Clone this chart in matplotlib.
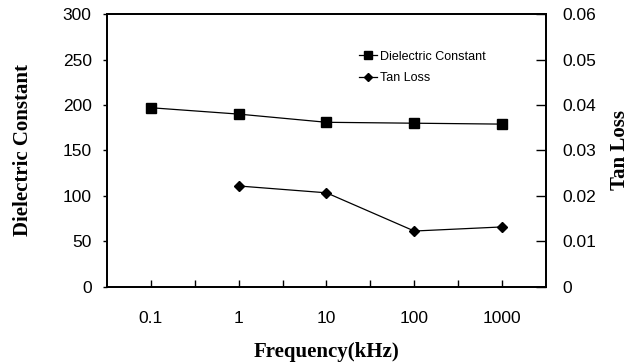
import matplotlib.pyplot as plt
from matplotlib.ticker import FixedLocator, NullFormatter

freq_khz = [0.1, 1, 10, 100, 1000]
freq_labels = ["0.1", "1", "10", "100", "1000"]
dielectric_constant = [197, 190, 181, 180, 179]

tan_freq_khz = [1, 10, 100, 1000]
tan_loss = [0.0222, 0.0207, 0.0123, 0.0132]

fig = plt.figure(figsize=(6.39, 3.63), dpi=100)
ax = fig.add_axes([0.1674, 0.2094, 0.6870, 0.7520])
ax2 = ax.twinx()

tick_font = {"family": "Liberation Sans", "size": 12.5}
label_font = {"family": "Liberation Serif", "size": 15, "weight": "bold"}

l1, = ax.plot(freq_khz, dielectric_constant, color="black", lw=0.9,
              marker="s", ms=7, label="Dielectric Constant")
l2, = ax2.plot(tan_freq_khz, tan_loss, color="black", lw=0.9,
               marker="D", ms=5.5, label="Tan Loss")

ax.set_xscale("log")
ax.set_xlim(10 ** -1.5, 10 ** 3.5)
ax.xaxis.set_major_locator(FixedLocator(freq_khz))
ax.xaxis.set_minor_locator(FixedLocator([10 ** (k + 0.5) for k in range(-1, 3)]))
ax.xaxis.set_minor_formatter(NullFormatter())
ax.set_xticklabels(freq_labels, fontdict=tick_font)

ax.set_ylim(0, 300)
ax.set_yticks(range(0, 301, 50))
ax.set_yticklabels([str(v) for v in range(0, 301, 50)], fontdict=tick_font)
ax2.set_ylim(0, 0.06)
ax2.set_yticks([i / 100 for i in range(7)])
ax2.set_yticklabels(["0"] + [f"{i / 100:.2f}" for i in range(1, 7)], fontdict=tick_font)

ax.tick_params(axis="x", which="both", direction="in", length=5, width=1, pad=17)
ax.tick_params(axis="y", direction="out", length=3, width=1, pad=8)
ax2.tick_params(axis="y", direction="in", length=7, width=1, pad=11.5)

for a in (ax, ax2):
    for sp in a.spines.values():
        sp.set_linewidth(1.3)

ax.set_xlabel("Frequency(kHz)", fontdict=label_font, labelpad=12)
ax.set_ylabel("Dielectric Constant", fontdict=label_font, labelpad=21)
ax2.set_ylabel("Tan Loss", fontdict=label_font, labelpad=10)

ax.legend([l1, l2], ["Dielectric Constant", "Tan Loss"], loc="upper left",
          bbox_to_anchor=(0.56, 0.888), frameon=False, handlelength=1.4,
          handletextpad=0.3, labelspacing=0.75, borderpad=0,
          prop={"family": "Liberation Sans", "size": 9}, markerscale=0.75)

fig.savefig("out.png", dpi=100)
